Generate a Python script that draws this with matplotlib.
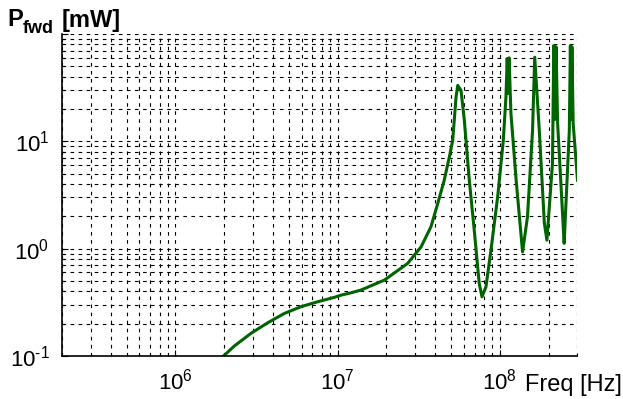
import numpy as np
import matplotlib
matplotlib.use("Agg")
import matplotlib.pyplot as plt
from matplotlib.ticker import LogLocator, NullFormatter

# data: frequency [Hz] and forward power [mW]
freq_hz = [1.66e6, 1.96e6, 2.31e6, 2.93e6, 3.71e6, 4.69e6, 5.95e6, 7.53e6,
           9.55e6, 1.05e7, 1.21e7, 1.39e7, 1.94e7, 2.70e7, 3.27e7, 3.76e7,
           4.14e7, 4.54e7, 4.88e7, 5.12e7, 5.37e7, 5.50e7, 5.76e7, 6.04e7,
           6.48e7, 6.95e7, 7.46e7, 7.76e7, 8.21e7, 8.81e7, 9.69e7, 1.05e8,
           1.09e8, 1.11e8, 1.125e8, 1.14e8, 1.17e8, 1.26e8, 1.38e8, 1.48e8,
           1.59e8, 1.64e8, 1.75e8, 1.88e8, 1.95e8, 2.11e8, 2.15e8, 2.19e8,
           2.22e8, 2.27e8, 2.44e8, 2.49e8, 2.68e8, 2.72e8, 2.75e8, 2.78e8,
           2.83e8, 3.01e8]
p_fwd = [0.081, 0.0985, 0.124, 0.163, 0.204, 0.249, 0.288, 0.320,
         0.352, 0.369, 0.388, 0.411, 0.509, 0.728, 1.04, 1.60,
         2.63, 4.34, 7.14, 10.2, 25.8, 33.2, 29.8, 15.7,
         4.34, 1.49, 0.474, 0.356, 0.441, 0.968, 3.03, 10.2,
         25.8, 59.0, 28.0, 60.0, 18.2, 4.34, 0.933, 1.98,
         12.6, 60.8, 12.6, 1.73, 1.20, 6.24, 78.0, 16.0,
         76.0, 14.7, 1.98, 1.12, 12.6, 78.0, 16.0, 76.0,
         14.7, 4.34]

x_ticks = [1e6, 1e7, 1e8]
x_tick_labels = [r"$10^{6}$", r"$10^{7}$", r"$10^{8}$"]
y_ticks = [0.1, 1, 10, 100]
y_tick_labels = [r"$10^{\text{-1}}$", r"$10^{0}$", r"$10^{1}$", ""]

# fonts like the matlab original (arial)
plt.rcParams['font.family'] = ['Liberation Sans', 'DejaVu Sans']
plt.rcParams['mathtext.fontset'] = 'custom'
plt.rcParams['mathtext.rm'] = 'Liberation Sans'
plt.rcParams['mathtext.it'] = 'Liberation Sans:italic'
plt.rcParams['mathtext.bf'] = 'Liberation Sans:bold'
plt.rcParams['lines.scale_dashes'] = False

fig = plt.figure(figsize=(6.23, 3.99), dpi=100, facecolor='white')
ax = fig.add_axes([0.0995, 0.1078, 0.8271, 0.8070])

ax.plot(freq_hz, p_fwd, color='#006400', linewidth=2.2)
ax.set_xscale('log')
ax.set_yscale('log')
ax.set_xlim(2e5, 3e8)
ax.set_ylim(0.1, 100)

ax.set_xticks(x_ticks, x_tick_labels)
ax.set_yticks(y_ticks, y_tick_labels)
for axis in (ax.xaxis, ax.yaxis):
    axis.set_minor_locator(LogLocator(base=10, subs=np.arange(2, 10), numticks=100))
    axis.set_minor_formatter(NullFormatter())

# dashed grid on major and minor ticks
ax.grid(True, which='both', color='black', linewidth=0.8, linestyle=(0, (2.6, 3.2)))
ax.set_axisbelow(True)

ax.tick_params(which='both', direction='in', width=0.8, labelsize=16)
ax.tick_params(which='major', length=4)
ax.tick_params(which='minor', length=2.5)
ax.tick_params(axis='x', pad=9)
ax.tick_params(axis='y', pad=9)

# box off
ax.spines['top'].set_visible(False)
ax.spines['right'].set_visible(False)
ax.spines['left'].set_linewidth(1.2)
ax.spines['bottom'].set_linewidth(1.2)

# y label: P with subscript fwd, then unit, at the top left
fig.text(7 / 623, 1 - 26 / 399, "P", fontsize=17, fontweight='bold',
         ha='left', va='baseline')
fig.text(23 / 623, 1 - 33 / 399, "fwd", fontsize=13, fontweight='bold',
         ha='left', va='baseline')
fig.text(62 / 623, 1 - 27 / 399, "[mW]", fontsize=17, fontweight='bold',
         ha='left', va='baseline')
# x label to the right of the last decade
fig.text(525 / 623, 1 - 391 / 399, "Freq [Hz]", fontsize=17,
         ha='left', va='baseline')

fig.savefig('out.png', dpi=100)
